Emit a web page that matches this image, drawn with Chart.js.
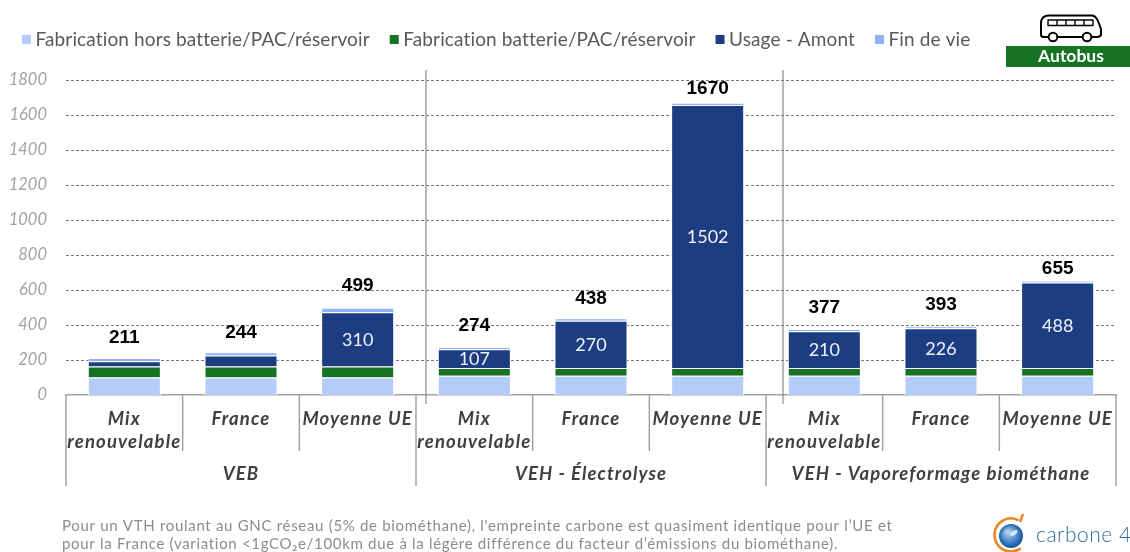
<!DOCTYPE html>
<html><head><meta charset="utf-8">
<style>html,body{margin:0;padding:0;background:#fff}canvas{display:block}</style>
<script src="https://cdn.jsdelivr.net/npm/chart.js@4"></script></head>
<body><canvas id="c" width="1130" height="552"></canvas>
<script>
const categories=[['Mix','renouvelable'],'France','Moyenne UE',['Mix','renouvelable'],'France','Moyenne UE',['Mix','renouvelable'],'France','Moyenne UE'];
const groups=['VEB','VEH - Électrolyse','VEH - Vaporeformage biométhane'];
const fabHors=[100,100,100,110,110,110,110,110,110];
const fabBatt=[63,63,63,45,45,45,45,45,45];
const usage=[30,63,310,107,270,1502,210,226,488];
const finVie=[18,18,26,12,13,13,12,12,12];
const totals=[211,244,499,274,438,1670,377,393,655];
const seriesNames=['Fabrication hors batterie/PAC/réservoir','Fabrication batterie/PAC/réservoir','Usage - Amont','Fin de vie'];
const seriesColors=['#B4CCFA','#167324','#1C3D82','#8FB1F5'];
const labelLift=[20,20,22,21,20,14,21,21,12];
const noteLines=["Pour un VTH roulant au GNC réseau (5% de biométhane), l'empreinte carbone est quasiment identique pour l’UE et","pour la France (variation <1gCO₂e/100km due à la légère différence du facteur d’émissions du biométhane)."];
const F='Lato, sans-serif';
const series=[fabHors,fabBatt,usage,finVie];
function spaced(o,m,sp,ctx){const f=o[m];o[m]=function(...a){ctx.letterSpacing=sp;const r=f.apply(this,a);ctx.letterSpacing='0px';return r;};}
const extras={id:'extras',
 beforeLayout(ch){const l=ch.legend;if(l&&!l._w){l._w=1;const f=l.fit;l.fit=function(){f.call(this);this.height=74;};spaced(l,'fit','0.13px',ch.ctx);spaced(l,'draw','0.13px',ch.ctx);spaced(ch.scales.x,'drawLabels','1.15px',ch.ctx);}},
 beforeDatasetsDraw(ch){const c=ch.ctx,y=ch.scales.y,a=ch.chartArea;c.save();c.strokeStyle='#7a7a7a';c.lineWidth=1;c.setLineDash([3,2]);
  y.ticks.forEach(t=>{if(!t.value)return;const p=Math.round(y.getPixelForValue(t.value))+0.5;c.beginPath();c.moveTo(a.left,p);c.lineTo(a.right,p);c.stroke();});c.restore();},
 afterDatasetsDraw(ch){const c=ch.ctx,x=ch.scales.x,y=ch.scales.y,a=ch.chartArea;c.save();
  const step=x.getPixelForValue(1)-x.getPixelForValue(0);
  const bot=a.bottom;
  c.strokeStyle='#a3a3a3';c.lineWidth=1.5;
  categories.forEach((_,i)=>{const px=x.getPixelForValue(i)-step/2;const big=i%3===0;c.beginPath();c.moveTo(px,bot);c.lineTo(px,bot+(big?91:56));c.stroke();});
  const rx=x.getPixelForValue(8)+step/2;c.beginPath();c.moveTo(rx,bot);c.lineTo(rx,bot+91);c.stroke();
  c.strokeStyle='#8c8c8c';c.lineWidth=1.2;
  [1,2].forEach(g=>{const px=x.getPixelForValue(g*3)-step/2+(g===1?10:17);c.beginPath();c.moveTo(px,a.top-10);c.lineTo(px,bot+9);c.stroke();});
  c.textAlign='center';c.textBaseline='middle';
  c.font='italic 700 18.5px '+F;c.fillStyle='#404040';c.letterSpacing='1.07px';
  groups.forEach((g,i)=>c.fillText(g,x.getPixelForValue(i*3+1),bot+79));
  c.letterSpacing='0px';
  const m=ch.getDatasetMeta(2);
  c.font='400 18px '+F;c.fillStyle='#F0F2F7';
  usage.forEach((v,i)=>{if(v<100)return;const b=m.data[i];c.fillText(String(v),b.x,(b.y+b.base)/2+1);});
  c.font='700 19px "Liberation Sans"';c.fillStyle='#000';
  totals.forEach((v,i)=>c.fillText(String(v),x.getPixelForValue(i),y.getPixelForValue(v)-labelLift[i]));
  ch.legend.legendHitBoxes.forEach((h,i)=>{c.fillStyle=seriesColors[i];c.fillRect(h.left-4,h.top+h.height/2-4.5,9,9);});
  // Autobus badge
  c.fillStyle='#167324';c.fillRect(1006,46,124,21);
  c.fillStyle='#fff';c.font='700 17.5px '+F;c.fillText('Autobus',1071,56.5);
  c.strokeStyle='#000';c.lineWidth=2;c.lineJoin='round';
  c.beginPath();c.moveTo(1043,37);c.quadraticCurveTo(1041,37,1041,34);c.lineTo(1041,22);c.quadraticCurveTo(1042,16,1048,15.5);c.lineTo(1092,15.5);c.quadraticCurveTo(1096,16,1098,21);c.lineTo(1101,29);c.lineTo(1101,35);c.quadraticCurveTo(1100,37,1097,37);c.closePath();c.stroke();
  c.fillStyle='#fff';[1053,1087].forEach(cx=>{c.beginPath();c.arc(cx,37,4.3,0,Math.PI*2);c.fill();c.stroke();});
  c.lineWidth=1.4;c.strokeRect(1048,20,45,5.5);[1057,1066,1075,1084].forEach(px=>{c.beginPath();c.moveTo(px,20);c.lineTo(px,25.5);c.stroke();});
  // note
  c.textAlign='left';c.font='400 15px '+F;c.fillStyle='#8C8C8C';c.letterSpacing='0.69px';
  noteLines.forEach((t,i)=>c.fillText(t,62,526+i*18));
  c.letterSpacing='0px';
  // logo
  const g=c.createRadialGradient(1008,532,2,1011,536,13);g.addColorStop(0,'#A9CBE8');g.addColorStop(0.6,'#3B7FC0');g.addColorStop(1,'#14498F');
  c.fillStyle=g;c.beginPath();c.arc(1011,536,12,0,Math.PI*2);c.fill();
  c.fillStyle='rgba(255,255,255,0.75)';c.beginPath();c.ellipse(1014,533,4,2,-0.6,0,Math.PI*2);c.fill();
  c.strokeStyle='#E8862A';c.lineWidth=2.6;c.beginPath();c.arc(1011,535,16.5,Math.PI*0.3,Math.PI*1.65);c.stroke();
  c.beginPath();c.moveTo(1020,522);c.lineTo(1023,514);c.stroke();
  c.font='300 21px '+F;c.fillStyle='#2F6E9C';c.letterSpacing='0.5px';c.fillText('carbone 4',1036,535.5);
  c.letterSpacing='0px';
  c.restore();}};
new Chart(document.getElementById('c'),{type:'bar',plugins:[extras],
 data:{labels:categories,datasets:series.map((d,i)=>({label:seriesNames[i],data:d,backgroundColor:seriesColors[i],borderColor:'#fff',borderWidth:{left:1,right:1,top:1,bottom:0},borderSkipped:false,barPercentage:0.626,categoryPercentage:1}))},
 options:{responsive:false,animation:false,
  layout:{padding:{top:6,left:2,right:14,bottom:0}},
  plugins:{tooltip:{enabled:false},legend:{align:'start',labels:{boxWidth:0,boxHeight:0,padding:24,color:'#595959',font:{family:F,size:19}}}},
  scales:{
   x:{stacked:true,afterFit(s){s.height=157;},grid:{display:false},border:{color:'#a3a3a3',width:1.5},
      ticks:{maxRotation:0,autoSkip:false,padding:4,color:'#404040',font:{family:F,size:18.5,weight:'700',style:'italic',lineHeight:1.25}}},
   y:{stacked:true,min:0,max:1800,afterFit(s){s.width=64;},border:{display:false},
      grid:{display:false},
      afterBuildTicks(s){s.ticks=[];for(let v=0;v<=1800;v+=200)s.ticks.push({value:v});},
      ticks:{padding:11,color:'#A3A3A3',callback:v=>String(v),font:{family:F,size:16.5,style:'italic'}}}
  }}});
</script></body></html>
